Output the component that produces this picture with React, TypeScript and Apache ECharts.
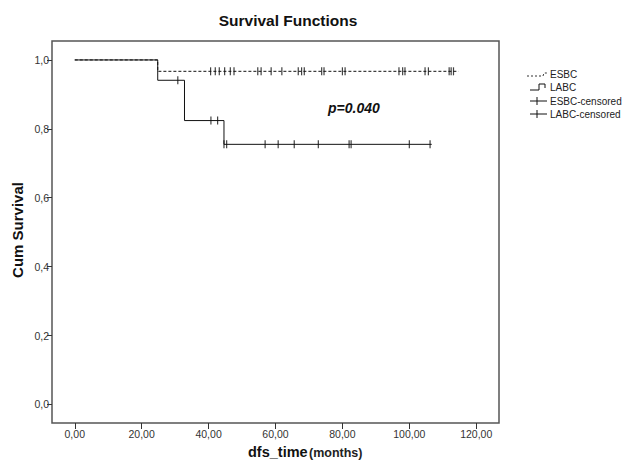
import React, { useEffect, useRef } from "react";
import * as echarts from "echarts";

const xTicks = [0, 20, 40, 60, 80, 100, 120];
const yTicks = [0, 0.2, 0.4, 0.6, 0.8, 1.0];

// Kaplan-Meier step points [time, survival]
const esbcCurve = [
  [0, 1],
  [24.8, 0.967],
  [114.7, 0.967],
];
const labcCurve = [
  [0, 1],
  [24.8, 0.941],
  [32.8, 0.824],
  [44.6, 0.755],
  [106.7, 0.755],
];

const esbcCensoredTimes = [
  40.6, 42.0, 43.2, 44.8, 46.5, 47.6, 54.7, 55.7, 58.7, 61.9, 66.8, 67.8, 68.6,
  73.8, 74.5, 80.0, 80.8, 96.9, 98.0, 98.7, 104.7, 105.7, 111.9, 112.5, 113.2,
];
const esbcCensoredSurv = esbcCensoredTimes.map(() => 0.967);

const labcCensoredTimes = [
  30.8, 40.7, 42.7, 44.6, 45.4, 56.9, 60.8, 65.6, 72.8, 82.0, 82.6, 100.0, 106.2,
];
const labcCensoredSurv = [
  0.941, 0.824, 0.824, 0.755, 0.755, 0.755, 0.755, 0.755, 0.755, 0.755, 0.755,
  0.755, 0.755,
];

const legendLabels = ["ESBC", "LABC", "ESBC-censored", "LABC-censored"];
const titleText = "Survival Functions";
const pValueText = "p=0.040";
const yAxisTitle = "Cum Survival";
const xAxisTitleMain = "dfs_time";
const xAxisTitleUnit = "(months)";

const FONT = "'Liberation Sans', Arial, sans-serif";

export default function App() {
  const ref = useRef<HTMLDivElement>(null);

  useEffect(() => {
    if (!ref.current) return;
    const chart = echarts.init(ref.current, null, { renderer: "svg" });

    const censorSymbol = {
      type: "scatter" as const,
      symbol: "rect",
      symbolSize: [1.2, 8],
      itemStyle: { color: "#111" },
      z: 5,
    };

    const legendTextX = 550;
    const legendY = [74, 87, 101, 114];

    chart.setOption({
      animation: false,
      backgroundColor: "#fff",
      textStyle: { fontFamily: FONT },
      grid: {
        left: 52,
        right: 131,
        top: 41,
        bottom: 45,
        containLabel: false,
        outerBoundsMode: "none",
        show: true,
        borderColor: "#555",
        borderWidth: 1.5,
        backgroundColor: "#fff",
      },
      xAxis: {
        type: "value",
        min: -6.8,
        max: 126.8,
        axisLine: { show: false, onZero: false },
        splitLine: { show: false },
        axisTick: {
          show: true,
          length: 6,
          customValues: xTicks,
          lineStyle: { color: "#333", width: 1 },
        },
        axisLabel: {
          customValues: xTicks,
          formatter: (v: number) => v.toFixed(2).replace(".", ","),
          color: "#333",
          fontSize: 10.5,
          margin: 5,
          fontFamily: FONT,
        },
      },
      yAxis: {
        type: "value",
        min: -0.054,
        max: 1.055,
        axisLine: { show: false, onZero: false },
        splitLine: { show: false },
        axisTick: {
          show: true,
          length: 5,
          customValues: yTicks,
          lineStyle: { color: "#333", width: 1 },
        },
        axisLabel: {
          customValues: yTicks,
          formatter: (v: number) => v.toFixed(1).replace(".", ","),
          color: "#333",
          fontSize: 10.5,
          margin: 3,
          fontFamily: FONT,
        },
      },
      series: [
        {
          name: "ESBC",
          type: "line",
          step: "end",
          data: esbcCurve,
          symbol: "none",
          lineStyle: { color: "#111", width: 1, type: [3, 2] },
          z: 3,
        },
        {
          name: "LABC",
          type: "line",
          step: "end",
          data: labcCurve,
          symbol: "none",
          lineStyle: { color: "#111", width: 1 },
          z: 4,
        },
        {
          ...censorSymbol,
          name: "ESBC-censored",
          data: esbcCensoredTimes.map((t, i) => [t, esbcCensoredSurv[i]]),
        },
        {
          ...censorSymbol,
          name: "LABC-censored",
          data: labcCensoredTimes.map((t, i) => [t, labcCensoredSurv[i]]),
        },
      ],
      graphic: [
        {
          type: "text",
          x: 288,
          y: 20,
          style: {
            text: titleText,
            font: `bold 15.5px ${FONT}`,
            fill: "#111",
            align: "center",
            verticalAlign: "middle",
          },
        },
        {
          type: "text",
          x: 17,
          y: 230,
          rotation: Math.PI / 2,
          style: {
            text: yAxisTitle,
            font: `bold 15px ${FONT}`,
            fill: "#111",
            align: "center",
            verticalAlign: "middle",
          },
        },
        {
          type: "text",
          x: 248,
          y: 444,
          style: {
            text: xAxisTitleMain,
            font: `bold 14.5px ${FONT}`,
            fill: "#111",
            align: "left",
            verticalAlign: "top",
          },
        },
        {
          type: "text",
          x: 309,
          y: 446,
          style: {
            text: xAxisTitleUnit,
            font: `bold 12.5px ${FONT}`,
            fill: "#222",
            align: "left",
            verticalAlign: "top",
          },
        },
        {
          type: "text",
          x: 328,
          y: 108,
          style: {
            text: pValueText,
            font: `italic bold 14px ${FONT}`,
            fill: "#111",
            align: "left",
            verticalAlign: "middle",
          },
        },
        // legend icons
        {
          type: "polyline",
          shape: {
            points: [
              [527, 76],
              [543, 76],
              [544, 73],
              [548, 73],
            ],
          },
          style: { stroke: "#333", lineWidth: 1, lineDash: [2, 2], fill: null },
        },
        {
          type: "polyline",
          shape: {
            points: [
              [530, 90],
              [539, 90],
              [539, 84],
              [545, 84],
              [545, 88],
            ],
          },
          style: { stroke: "#111", lineWidth: 1, fill: null },
        },
        {
          type: "line",
          shape: { x1: 530, y1: 101, x2: 547, y2: 101 },
          style: { stroke: "#111", lineWidth: 1 },
        },
        {
          type: "line",
          shape: { x1: 537, y1: 97, x2: 537, y2: 105 },
          style: { stroke: "#111", lineWidth: 1 },
        },
        {
          type: "line",
          shape: { x1: 530, y1: 114, x2: 547, y2: 114 },
          style: { stroke: "#111", lineWidth: 1 },
        },
        {
          type: "line",
          shape: { x1: 537, y1: 110, x2: 537, y2: 118 },
          style: { stroke: "#111", lineWidth: 1 },
        },
        ...legendLabels.map((label, i) => ({
          type: "text",
          x: legendTextX,
          y: legendY[i],
          style: {
            text: label,
            font: `10px ${FONT}`,
            fill: "#222",
            align: "left",
            verticalAlign: "middle",
          },
        })),
      ],
    });

    return () => chart.dispose();
  }, []);

  return <div ref={ref} style={{ width: 630, height: 468, margin: -8 }} />;
}
